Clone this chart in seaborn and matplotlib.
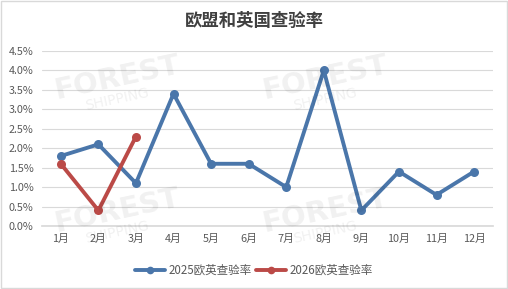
import matplotlib
matplotlib.use("Agg")
import matplotlib.pyplot as plt
import seaborn as sns
import pandas as pd
from matplotlib.ticker import FuncFormatter, MultipleLocator
from matplotlib.lines import Line2D

months = ["1月", "2月", "3月", "4月", "5月", "6月", "7月", "8月", "9月", "10月", "11月", "12月"]
rate_2025 = [1.8, 2.1, 1.1, 3.4, 1.6, 1.6, 1.0, 4.0, 0.4, 1.4, 0.8, 1.4]
rate_2026 = [1.6, 0.4, 2.3]
series_names = ["2025欧英查验率", "2026欧英查验率"]
title = "欧盟和英国查验率"

sns.set_theme(style="white")
plt.rcParams['font.family'] = ['Noto Sans CJK SC', 'DejaVu Sans']

rows = []
for i, v in enumerate(rate_2025):
    rows.append({"idx": i, "rate": v, "series": series_names[0]})
for i, v in enumerate(rate_2026):
    rows.append({"idx": i, "rate": v, "series": series_names[1]})
df = pd.DataFrame(rows)

fig = plt.figure(figsize=(5.08, 2.89), dpi=100)
fig.patch.set_facecolor("white")
ax = fig.add_axes([0.0827, 0.218, 0.8875, 0.6055])

palette = {series_names[0]: "#4a76aa", series_names[1]: "#bb4a47"}
sns.lineplot(data=df, x="idx", y="rate", hue="series", palette=palette,
             marker="o", markersize=6.5, markeredgewidth=0, linewidth=2.8,
             ax=ax, legend=False)

ax.set_xlim(-0.5, len(months) - 0.5)
ax.set_ylim(0, 4.5)
ax.yaxis.set_major_locator(MultipleLocator(0.5))
ax.yaxis.set_major_formatter(FuncFormatter(lambda v, p: f"{v:.1f}%"))
ax.set_xticks(range(len(months)))
ax.set_xticklabels(months)
ax.tick_params(axis="both", labelsize=7.8, colors="#595959", length=0, pad=6)
ax.grid(axis="y", color="#d9d9d9", linewidth=0.8)
ax.set_axisbelow(True)
for s in ["top", "right", "left"]:
    ax.spines[s].set_visible(False)
ax.spines["bottom"].set_color("#d9d9d9")
ax.set_xlabel("")
ax.set_ylabel("")

fig.text(0.5, 0.928, title, ha="center", va="center", fontsize=12.5,
         fontweight="bold", color="#404040")

# watermarks
for (x, y) in [(0.23, 0.73), (0.64, 0.73), (0.23, 0.27), (0.64, 0.27)]:
    fig.text(x, y, "FOREST", fontsize=21, fontweight="bold", color="#000000",
             alpha=0.06, rotation=12, ha="center", va="center", family="DejaVu Sans")
    fig.text(x, y - 0.075, "SHIPPING", fontsize=10, color="#000000",
             alpha=0.06, rotation=12, ha="center", va="center", family="DejaVu Sans")

handles = [Line2D([0], [0], color=palette[n], marker="o", markersize=5.5,
                  markeredgewidth=0, linewidth=2.8) for n in series_names]
fig.legend(handles, series_names, loc="center", bbox_to_anchor=(0.5, 0.065),
           ncol=2, frameon=False, fontsize=8.3, handlelength=2.6,
           columnspacing=0.4, handletextpad=0.3, labelcolor="#595959")

border = plt.Rectangle((0.002, 0.003), 0.996, 0.994, transform=fig.transFigure,
                       fill=False, edgecolor="#d9d9d9", linewidth=1)
fig.add_artist(border)

fig.savefig("out.png", dpi=100, facecolor="white")
